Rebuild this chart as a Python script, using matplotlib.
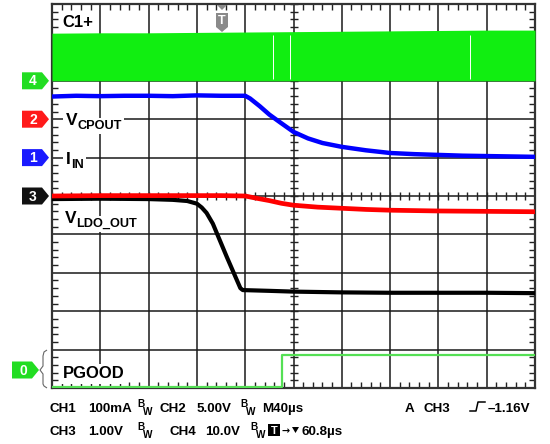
import matplotlib
matplotlib.use('Agg')
import matplotlib.pyplot as plt
import numpy as np
from matplotlib.patches import Polygon, Rectangle, PathPatch
from matplotlib.path import Path

plt.rcParams['font.family'] = ['Liberation Sans', 'DejaVu Sans']
plt.rcParams['font.weight'] = 'bold'

# ---- data: x in divisions (40 us/div), y in screen divisions ----
c1_x = [0, 1, 2, 3, 4, 5, 6, 7, 8, 9, 10]
c1_top = [9.24, 9.25, 9.25, 9.26, 9.27, 9.28, 9.29, 9.30, 9.31, 9.32, 9.32]
c1_base = 8.0
c1_gaps = [4.57, 4.93, 8.66]

iin_x = [0, 0.5, 1, 1.5, 2, 2.5, 3, 3.5, 4.0, 4.1, 4.3, 4.5, 4.72, 5.0, 5.3, 5.6,
         6.0, 6.5, 7.0, 7.5, 8.0, 8.5, 9.0, 9.5, 10]
iin_y = [7.59, 7.61, 7.60, 7.61, 7.61, 7.60, 7.62, 7.61, 7.61, 7.54, 7.34, 7.12, 6.92,
         6.67, 6.50, 6.38, 6.28, 6.19, 6.12, 6.09, 6.07, 6.05, 6.04, 6.03, 6.02]

vcp_x = [0, 1, 2, 3, 3.5, 4.0, 4.2, 4.5, 4.75, 5.0, 5.5, 6.0, 6.5, 7.0, 8.0, 9.0, 10]
vcp_y = [5.00, 5.01, 5.01, 5.01, 5.01, 5.00, 4.95, 4.88, 4.81, 4.76, 4.71, 4.68,
         4.65, 4.63, 4.61, 4.60, 4.59]

vldo_x = [0, 1, 2.0, 2.5, 2.8, 3.0, 3.1, 3.2, 3.33, 3.62, 3.9, 3.95, 4.5, 5, 6, 7, 8, 9, 10]
vldo_y = [4.92, 4.93, 4.92, 4.90, 4.87, 4.80, 4.70, 4.56, 4.28, 3.41, 2.60, 2.55,
          2.53, 2.51, 2.49, 2.48, 2.48, 2.48, 2.47]

pg_x = [0, 4.76, 4.76, 10]
pg_y = [0.03, 0.03, 0.86, 0.86]

channel_tags = ['4', '2', '1', '3']
channel_levels = [8, 7, 6, 5]
channel_colors = ['#22dd22', '#ff1a1a', '#1a1aff', '#111111']

line1 = [(50, 'CH1'), (88, '100mA'), (160, 'CH2'), (197, '5.00V'), (262, 'M40µs'),
         (405, 'A'), (423, 'CH3'), (488, '–1.16V')]
line2 = [(50, 'CH3'), (88, '1.00V'), (170, 'CH4'), (205, '10.0V'), (302, '60.8µs')]
bw1 = [137, 240]
bw2 = [137, 250]

# ---- figure ----
W, H = 550, 444
fig = plt.figure(figsize=(5.5, 4.44), dpi=100)
L, R, T, B = 52, 535, 4, 388
ax = fig.add_axes([L / W, 1 - B / H, (R - L) / W, (B - T) / H])
ax.set_xlim(0, 10)
ax.set_ylim(0, 10)
ax.set_xticks(range(11))
ax.set_yticks(range(11))
ax.set_xticks(np.arange(0, 10.001, 0.2), minor=True)
ax.set_yticks(np.arange(0, 10.001, 0.2), minor=True)
ax.grid(True, which='major', color='#1a1a1a', lw=1.1, zorder=1)
ax.set_axisbelow(True)
ax.tick_params(which='major', length=0, labelbottom=False, labelleft=False)
ax.tick_params(which='minor', direction='in', length=4, width=1, color='#222',
               top=True, right=True, bottom=True, left=True)
for s in ax.spines.values():
    s.set_color('#333333')
    s.set_linewidth(1.6)

mt = np.arange(0, 10.001, 0.2)
ax.plot([5] * len(mt), mt, ls='none', marker='_', ms=6, mew=1, color='#222', zorder=1.5)
ax.plot(mt, [5] * len(mt), ls='none', marker='|', ms=6, mew=1, color='#222', zorder=1.5)

# traces
ax.fill_between(c1_x, c1_base, c1_top, color='#11ee11', lw=0, zorder=4)
ax.vlines(c1_gaps, c1_base + 0.05, 9.2, color='white', lw=0.7, zorder=4.1)
ax.plot(vldo_x, vldo_y, color='#000000', lw=3.0, zorder=5, solid_capstyle='butt')
ax.plot(vcp_x, vcp_y, color='#ff0000', lw=3.4, zorder=6, solid_capstyle='butt')
ax.plot(iin_x, iin_y, color='#0000ff', lw=3.2, zorder=7, solid_capstyle='butt')
ax.plot(pg_x, pg_y, color='#55e055', lw=1.6, zorder=5)

def px2d(px, py):
    return (px - L) / ((R - L) / 10), (B - py) / ((B - T) / 10)

def label(px, py, s, fs=12, pad=0.15):
    x, y = px2d(px, py)
    ax.text(x, y, s, fontsize=fs, fontweight='bold', ha='left', va='baseline', zorder=3,
            bbox=dict(boxstyle='square,pad=%g' % pad, fc='white', ec='none'))

label(62, 27, 'C1+', 12)
label(66, 125, 'V', 12.5)
label(77.5, 129, 'CPOUT', 9.2)
label(66, 164, 'I', 12.5)
label(71.5, 168, 'IN', 9.2)
label(65, 223, 'V', 12.5)
label(76.5, 227, 'LDO_OUT', 9.2)
label(63, 378, 'PGOOD', 12)

# overlay in pixel coordinates
ov = fig.add_axes([0, 0, 1, 1], zorder=10)
ov.set_xlim(0, W)
ov.set_ylim(H, 0)
ov.axis('off')
ov.patch.set_alpha(0)

def tag(x0, yc, txt, color, w=27, h=17, tip=7):
    pts = [(x0, yc - h / 2), (x0 + w - tip, yc - h / 2), (x0 + w, yc),
           (x0 + w - tip, yc + h / 2), (x0, yc + h / 2)]
    ov.add_patch(Polygon(pts, closed=True, fc=color, ec='none'))
    ov.text(x0 + (w - tip) / 2 + 1, yc + 0.5, txt, color='white', fontsize=10,
            fontweight='bold', ha='center', va='center')

for t, lv, c in zip(channel_tags, channel_levels, channel_colors):
    tag(22, B - lv * (B - T) / 10, t, c)
tag(12, 370, '0', '#22dd22')

# brace for PGOOD
verts = [(47, 350), (44, 352), (43, 356), (43, 366), (40, 370), (43, 374), (43, 384),
         (44, 386), (47, 388)]
codes = [Path.MOVETO] + [Path.LINETO] * (len(verts) - 1)
ov.add_patch(PathPatch(Path(verts, codes), fc='none', ec='#666', lw=0.8))

# trigger marker at top
ov.add_patch(Polygon([(217, 5), (227, 5), (222, 10)], closed=True, fc='#8a8a8a', ec='none'))
ov.add_patch(Polygon([(216, 13), (228, 13), (228, 27), (222, 32), (216, 27)], closed=True,
                     fc='#8a8a8a', ec='none'))
ov.text(222, 20.5, 'T', color='white', fontsize=9, fontweight='bold', ha='center', va='center')

# bottom status text
fs = 9.6
y1, y2 = 412, 435
for x, s in line1:
    ov.text(x, y1, s, fontsize=fs, fontweight='bold', ha='left', va='baseline')
for x, s in line2:
    ov.text(x, y2, s, fontsize=fs, fontweight='bold', ha='left', va='baseline')
for yb, xs in ((y1, bw1), (y2, bw2)):
    for x in xs:
        ov.text(x, yb - 5, 'B', fontsize=7.2, fontweight='bold', ha='left', va='baseline')
        ov.text(x + 6, yb + 3, 'W', fontsize=7.2, fontweight='bold', ha='left', va='baseline')
# trigger edge symbol
ov.plot([470, 476, 478, 485], [411, 411, 402, 402], color='black', lw=1.1)
# T box, arrow, triangle on line 2
ov.add_patch(Rectangle((268, 424), 12, 12, fc='black', ec='none'))
ov.text(274, 430.5, 'T', color='white', fontsize=8, fontweight='bold', ha='center', va='center')
ov.text(282, 431, '→', fontsize=7, fontweight='bold', ha='left', va='center',
        family=['DejaVu Sans'])
ov.add_patch(Polygon([(292, 427), (299, 427), (295.5, 433)], closed=True, fc='black', ec='none'))

fig.savefig('out.png', dpi=100)
